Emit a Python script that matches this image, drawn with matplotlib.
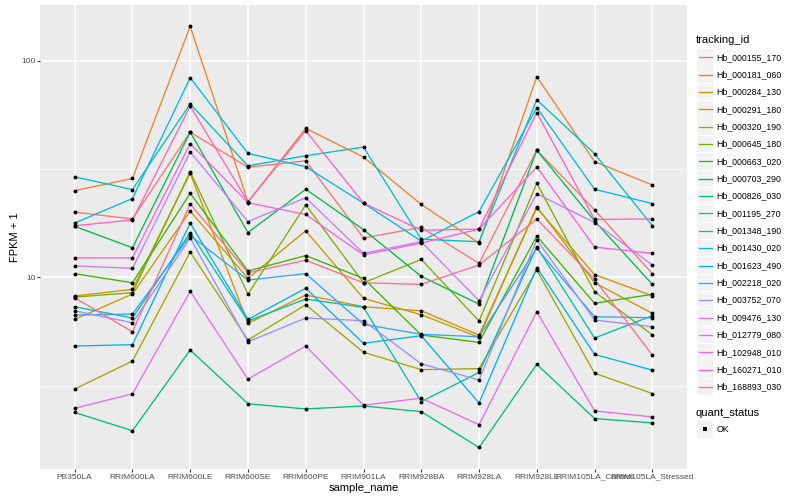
import matplotlib
matplotlib.use("Agg")
import matplotlib.pyplot as plt
from matplotlib.patches import Rectangle
from matplotlib.lines import Line2D
import numpy as np

plt.rcParams['font.family'] = ['Liberation Sans', 'DejaVu Sans']

samples = ["PB350LA", "RRIM600LA", "RRIM600LE", "RRIM600SE", "RRIM600PE", "RRIM901LA",
           "RRIM928BA", "RRIM928LA", "RRIM928LE", "RRIM105LA_Control", "RRIM105LA_Stressed"]

tracking_ids = ["Hb_000155_170", "Hb_000181_060", "Hb_000284_130", "Hb_000291_180", "Hb_000320_190",
                "Hb_000645_180", "Hb_000663_020", "Hb_000703_290", "Hb_000826_030", "Hb_001195_270",
                "Hb_001348_190", "Hb_001430_020", "Hb_001623_490", "Hb_002218_020", "Hb_003752_070",
                "Hb_009476_130", "Hb_012779_080", "Hb_102948_010", "Hb_160271_010", "Hb_168893_030"]

colors = ["#F8766D", "#EA8331", "#D89000", "#C09B00", "#A3A500", "#7CAE00", "#39B600", "#00BB4E",
          "#00BF7D", "#00C1A3", "#00BFC4", "#00BAE0", "#00B0F6", "#35A2FF", "#9590FF", "#C77CFF",
          "#E76BF3", "#FA62DB", "#FF62BC", "#FF6C91"]

# FPKM + 1 values, one list per tracking_id, in sample order
Hb_000155_170 = [20.0, 18.6, 46.8, 32.2, 34.5, 15.2, 17.0, 11.6, 38.6, 20.5, 10.4]
Hb_000181_060 = [25.1, 28.6, 144.0, 22.3, 48.7, 35.9, 21.7, 14.4, 84.3, 34.2, 26.7]
Hb_000284_130 = [8.20, 8.80, 30.2, 6.13, 8.29, 7.32, 7.01, 5.42, 20.9, 10.3, 8.22]
Hb_000291_180 = [6.40, 8.37, 20.2, 9.89, 16.4, 8.00, 6.72, 5.29, 21.2, 9.44, 6.82]
Hb_000320_190 = [3.05, 4.11, 13.1, 5.14, 7.47, 4.51, 3.75, 3.79, 10.8, 3.61, 2.91]
Hb_000645_180 = [8.11, 8.49, 30.7, 8.37, 21.6, 9.44, 12.1, 6.29, 27.2, 8.58, 5.43]
Hb_000663_020 = [10.4, 9.44, 24.4, 10.7, 12.6, 9.89, 5.42, 5.01, 15.5, 7.59, 8.35]
Hb_000703_290 = [17.2, 13.7, 46.8, 16.1, 25.5, 16.6, 10.1, 7.53, 38.6, 18.2, 9.28]
Hb_000826_030 = [2.38, 1.96, 4.62, 2.61, 2.47, 2.55, 2.40, 1.64, 3.97, 2.23, 2.13]
Hb_001195_270 = [7.32, 6.49, 16.1, 6.29, 7.94, 7.27, 2.67, 3.64, 13.8, 5.25, 6.65]
Hb_001348_190 = [29.1, 25.4, 63.1, 32.7, 36.4, 39.9, 15.0, 14.6, 66.0, 37.2, 17.3]
Hb_001430_020 = [17.8, 23.1, 83.4, 37.3, 32.4, 22.0, 14.7, 20.1, 60.6, 25.5, 21.9]
Hb_001623_490 = [4.82, 4.89, 17.8, 6.40, 8.90, 4.96, 5.38, 2.63, 11.1, 4.41, 3.73]
Hb_002218_020 = [6.70, 6.77, 15.6, 9.72, 10.4, 6.07, 5.46, 5.32, 13.6, 6.58, 6.51]
Hb_003752_070 = [7.01, 6.17, 15.2, 5.04, 6.49, 6.31, 3.99, 3.36, 14.9, 6.35, 5.92]
Hb_009476_130 = [11.3, 11.0, 37.9, 18.1, 23.3, 12.9, 14.6, 7.80, 24.3, 17.9, 11.4]
Hb_012779_080 = [2.49, 2.90, 8.62, 3.39, 4.82, 2.57, 2.77, 2.09, 6.94, 2.42, 2.27]
Hb_102948_010 = [12.3, 12.3, 41.4, 22.1, 19.5, 12.7, 14.4, 16.7, 32.3, 13.8, 12.9]
Hb_160271_010 = [17.3, 18.4, 61.7, 22.3, 47.5, 22.0, 16.5, 16.7, 57.5, 18.5, 18.6]
Hb_168893_030 = [8.05, 5.61, 21.8, 10.5, 12.0, 9.44, 9.28, 11.4, 18.6, 9.79, 4.38]

series = [Hb_000155_170, Hb_000181_060, Hb_000284_130, Hb_000291_180, Hb_000320_190,
          Hb_000645_180, Hb_000663_020, Hb_000703_290, Hb_000826_030, Hb_001195_270,
          Hb_001348_190, Hb_001430_020, Hb_001623_490, Hb_002218_020, Hb_003752_070,
          Hb_009476_130, Hb_012779_080, Hb_102948_010, Hb_160271_010, Hb_168893_030]

fig = plt.figure(figsize=(8, 5), dpi=100)
ax = fig.add_axes([40/800, 1-469/500, 647/800, 464/500])
ax.set_facecolor("#EBEBEB")
for s in ax.spines.values():
    s.set_visible(False)

x = np.arange(len(samples))
for vals, c in zip(series, colors):
    ax.plot(x, vals, color=c, lw=0.95, zorder=3)
for vals in series:
    ax.plot(x, vals, 'o', color='black', ms=2.8, mew=0, zorder=4)

ax.set_yscale('log')
ax.set_xlim(-0.6, len(samples) - 1 + 0.6)
ax.set_ylim(1.305, 180.6)
ax.set_yticks([10, 100])
ax.set_yticklabels(["10", "100"])
ax.set_yticks([10**0.5, 10**1.5], minor=True)
ax.yaxis.set_minor_formatter(matplotlib.ticker.NullFormatter())
ax.set_xticks(x)
ax.set_xticklabels(samples)
ax.grid(which='major', color='white', lw=1.1, zorder=1)
ax.grid(which='minor', axis='y', color='white', lw=0.55, zorder=1)
ax.tick_params(axis='both', which='major', length=2.3, color='#333333', width=0.8,
               labelsize=6.0, labelcolor='#4D4D4D', pad=1.0)
ax.tick_params(axis='y', which='minor', length=0)
ax.set_xlabel("sample_name", fontsize=8, labelpad=1.5)
ax.set_ylabel("FPKM + 1", fontsize=8, labelpad=3)
ax.yaxis.set_label_coords(-20/647, 0.5)

# legend (ggplot style)
fig.text(696/800, 1-40/500, "tracking_id", fontsize=8, va='center', ha='left')
key_w, key_h = 16/800, 16.5/500
for i, (tid, c) in enumerate(zip(tracking_ids, colors)):
    yc = 57.3 + i * 17.35
    fig.add_artist(Rectangle((697/800, 1-(yc+8.25)/500), key_w, key_h,
                             transform=fig.transFigure, facecolor='#F2F2F2', edgecolor='none'))
    fig.add_artist(Line2D([698.5/800, 711.5/800], [1-yc/500, 1-yc/500],
                          transform=fig.transFigure, color=c, lw=0.95))
    fig.text(716.5/800, 1-yc/500, tid, fontsize=6.3, va='center', ha='left')

fig.text(696/800, 1-412.7/500, "quant_status", fontsize=8, va='center', ha='left')
yc = 429.3
fig.add_artist(Rectangle((697/800, 1-(yc+8.25)/500), key_w, key_h,
                         transform=fig.transFigure, facecolor='#F2F2F2', edgecolor='none'))
fig.add_artist(Line2D([705/800], [1-yc/500], transform=fig.transFigure, marker='s',
                      color='black', ms=2.8, mew=0, lw=0))
fig.text(716.5/800, 1-yc/500, "OK", fontsize=6.3, va='center', ha='left')

fig.savefig("out.png", dpi=100)
